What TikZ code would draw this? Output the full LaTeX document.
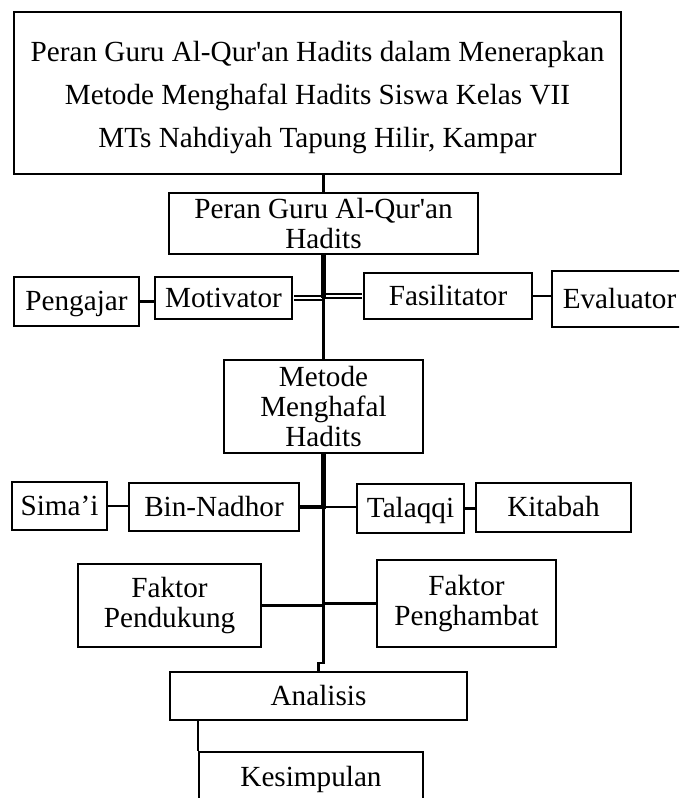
\documentclass[tikz,border=0pt]{standalone}
\usepackage{fontspec}
\setmainfont{Liberation Serif}

\begin{document}
\begin{tikzpicture}[x=0.75pt,y=0.75pt,yscale=-1,xscale=1,
  box/.style={draw, line width=1.7pt, align=center, inner sep=0pt, font=\fontsize{21.9pt}{22.5pt}\selectfont},
  oneline/.style={text height=13.5pt, text depth=0pt},
  link/.style={line width=1.7pt},
  spine/.style={line width=3.4pt},
  twin/.style={double, line width=1.4pt, double distance=2pt}]
%set diagram left start at 0, and has height of 798
\useasboundingbox (0,0) rectangle (679,798);
\clip (0,0) rectangle (679,798);

%Shape: Rectangle
\node[box, minimum width=455.25pt, minimum height=121.5pt, font=\fontsize{21.9pt}{32.25pt}\selectfont] (judul) at (317.5,93) {\rule{0pt}{22.5pt}Peran Guru Al-Qur\textquotesingle an Hadits dalam Menerapkan\\Metode Menghafal Hadits Siswa Kelas VII\\MTs Nahdiyah Tapung Hilir, Kampar};
%Shape: Rectangle
\node[box, minimum width=231.75pt, minimum height=45.75pt] (peran) at (323.5,223.5) {Peran Guru Al-Qur\textquotesingle an\\Hadits};
%Shape: Rectangle
\node[box, oneline, minimum width=93.75pt, minimum height=36.75pt] (pengajar) at (76.5,301.5) {Pengajar};
\node[box, oneline, minimum width=102.75pt, minimum height=31.5pt] (motivator) at (223.5,298) {Motivator};
\node[box, oneline, minimum width=126pt, minimum height=34.5pt] (fasilitator) at (448,296) {Fasilitator};
\node[box, oneline, minimum width=101.25pt, minimum height=42pt] (evaluator) at (619.5,299) {Evaluator};
%Shape: Rectangle
\node[box, minimum width=149.25pt, minimum height=69.75pt] (metode) at (323.5,406.5) {Metode\\Menghafal\\Hadits};
%Shape: Rectangle
\node[box, oneline, minimum width=71.25pt, minimum height=36pt] (simai) at (59.5,506) {Sima’i};
\node[box, oneline, minimum width=127.5pt, minimum height=36pt] (binnadhor) at (214,507) {Bin-Nadhor};
\node[box, oneline, minimum width=80.25pt, minimum height=36.75pt] (talaqqi) at (410.5,508.5) {Talaqqi};
\node[box, oneline, minimum width=116.25pt, minimum height=36.75pt] (kitabah) at (553.5,507.5) {Kitabah};
%Shape: Rectangle
\node[box, minimum width=137.25pt, minimum height=62.25pt] (pendukung) at (169.5,605.5) {Faktor\\Pendukung};
\node[box, minimum width=134.25pt, minimum height=65.25pt] (penghambat) at (466.5,603.5) {Faktor\\Penghambat};
%Shape: Rectangle
\node[box, oneline, minimum width=222.75pt, minimum height=36pt] (analisis) at (318.5,696) {Analisis};
\node[box, oneline, minimum width=168pt, minimum height=37.5pt] (kesimpulan) at (311,777) {Kesimpulan};

%Straight Lines
\draw[link] (peran.north) -- (peran.north |- judul.south);
\draw[link] (pengajar.east) -- (pengajar.east -| motivator.west);
\draw[twin, shorten <=0.85pt] (motivator.east) -- (motivator.east -| peran.south);
\draw[twin, shorten >=0.85pt] (fasilitator.west -| peran.south) -- (fasilitator.west);
\draw[link] (fasilitator.east) -- (fasilitator.east -| evaluator.west);
\coordinate (simpulA) at (peran.south |- motivator.east);
\draw[link] (simpulA) -- (metode.north);
\draw[spine] (peran.south) -- (simpulA);

%Straight Lines
\coordinate (simpulB) at (metode.south |- binnadhor.east);
\coordinate (belok) at (323.5,663);
\draw[link] (simai.east) -- (simai.east -| binnadhor.west);
\draw[link] (simpulB) -- (simpulB -| talaqqi.west);
\draw[link] (talaqqi.east) -- (talaqqi.east -| kitabah.west);
\draw[link] (pendukung.east) -- (pendukung.east -| simpulB);
\draw[link] (simpulB |- penghambat.west) -- (penghambat.west);
\draw[link] (simpulB) -- (belok) -| (analisis.north);
\draw[spine] (metode.south) -- (simpulB) -- (binnadhor.east);
\draw[link] (kesimpulan.north west) -- (kesimpulan.north west |- analisis.south);

\end{tikzpicture}
\end{document}
